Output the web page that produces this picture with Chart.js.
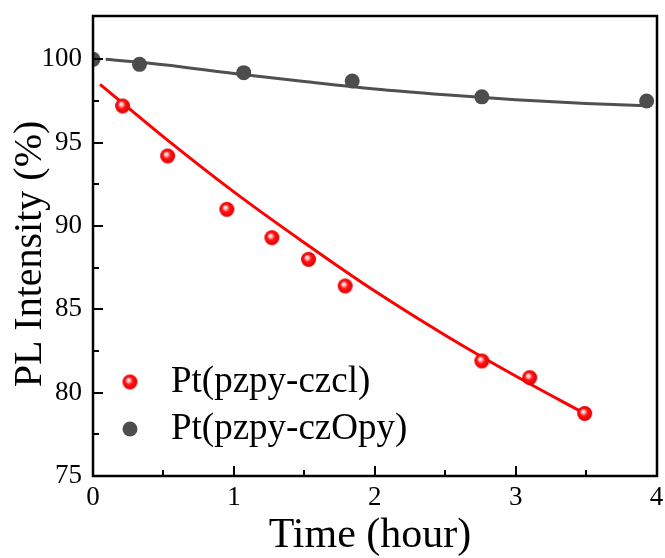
<!DOCTYPE html>
<html>
<head>
<meta charset="utf-8">
<script src="https://cdn.jsdelivr.net/npm/chart.js@4.4.1/dist/chart.umd.min.js"></script>
<style>
  html, body { margin: 0; padding: 0; background: #fff; }
  #wrap { width: 665px; height: 558px; }
</style>
</head>
<body>
<div id="wrap"><canvas id="plot"></canvas></div>
<script>
// measured points, Pt(pzpy-czcl)
var TIME_CZCL = [0.21, 0.53, 0.95, 1.27, 1.53, 1.79, 2.76, 3.10, 3.49];
var PL_CZCL = [97.2, 94.2, 91.0, 89.3, 88.0, 86.4, 81.9, 80.9, 78.75];

// measured points, Pt(pzpy-czOpy)
var TIME_CZOPY = [0, 0.33, 1.07, 1.84, 2.76, 3.93];
var PL_CZOPY = [100.0, 99.7, 99.2, 98.7, 97.75, 97.5];

// fitted decay curves
var FIT_X_CZCL = [0.05, 0.5, 1.0, 1.5, 2.0, 2.5, 3.0, 3.49];
var FIT_Y_CZCL = [98.5, 95.35, 92.05, 89.0, 86.1, 83.45, 81.0, 78.75];
var FIT_X_CZOPY = [0.09, 0.5, 1.0, 1.5, 2.0, 2.5, 3.0, 3.5, 3.93];
var FIT_Y_CZOPY = [100.0, 99.68, 99.15, 98.67, 98.22, 97.87, 97.57, 97.35, 97.22];

var X_TICKS = [0, 1, 2, 3, 4];
var X_MINOR = [0.5, 1.5, 2.5, 3.5];
var Y_TICKS = [75, 80, 85, 90, 95, 100];
var Y_MINOR = [77.5, 82.5, 87.5, 92.5, 97.5];
var LABELS = ['Pt(pzpy-czcl)', 'Pt(pzpy-czOpy)'];
var X_TITLE = 'Time (hour)';
var Y_TITLE = 'PL Intensity (%)';

var SERIF = '"Liberation Serif", "Times New Roman", serif';
var RED = '#ff0000';
var GREY = '#4d4d4d';

function pairs(xs, ys) {
  return xs.map(function (x, i) { return { x: x, y: ys[i] }; });
}

// shiny red ball used as the marker
function makeBall(r) {
  var c = document.createElement('canvas');
  c.width = c.height = r * 2 + 2;
  var g = c.getContext('2d');
  var cx = r + 1, cy = r + 1;
  var grad = g.createRadialGradient(cx - r * 0.25, cy - r * 0.3, 0, cx, cy, r);
  grad.addColorStop(0, '#ffffff');
  grad.addColorStop(0.22, '#ffc0c0');
  grad.addColorStop(0.5, '#ff1414');
  grad.addColorStop(1, '#e00000');
  g.fillStyle = grad;
  g.beginPath();
  g.arc(cx, cy, r, 0, Math.PI * 2);
  g.fill();
  return c;
}
var ball = makeBall(7.5);

// frame, inward ticks, axis titles and the legend
var decor = {
  id: 'decor',
  afterDatasetsDraw: function (chart) {
    var ctx = chart.ctx, a = chart.chartArea;
    var xs = chart.scales.x, ys = chart.scales.y;
    var L = Math.round(a.left), R = Math.round(a.right);
    var T = Math.round(a.top), B = Math.round(a.bottom);
    ctx.save();
    ctx.strokeStyle = '#000';
    ctx.lineWidth = 2.5;
    ctx.strokeRect(L, T, R - L, B - T);

    // tick marks point into the plot
    ctx.fillStyle = '#000';
    X_TICKS.forEach(function (v) {
      ctx.fillRect(Math.round(xs.getPixelForValue(v)) - 1, B - 10, 2, 10);
    });
    X_MINOR.forEach(function (v) {
      ctx.fillRect(Math.round(xs.getPixelForValue(v)) - 1, B - 6, 2, 6);
    });
    Y_TICKS.forEach(function (v) {
      ctx.fillRect(L, Math.round(ys.getPixelForValue(v)) - 1, 10, 2);
    });
    Y_MINOR.forEach(function (v) {
      ctx.fillRect(L, Math.round(ys.getPixelForValue(v)) - 1, 6, 2);
    });

    ctx.textBaseline = 'middle';
    ctx.textAlign = 'center';
    ctx.font = '42px ' + SERIF;
    ctx.fillText(X_TITLE, 370, 536);
    ctx.save();
    ctx.translate(30, 254);
    ctx.rotate(-Math.PI / 2);
    ctx.font = '40px ' + SERIF;
    ctx.fillText(Y_TITLE, 0, 0);
    ctx.restore();

    // legend
    ctx.drawImage(ball, 130 - ball.width / 2, 382 - ball.height / 2);
    ctx.fillStyle = GREY;
    ctx.beginPath();
    ctx.arc(130, 429, 7.5, 0, Math.PI * 2);
    ctx.fill();
    ctx.fillStyle = '#000';
    ctx.font = '37px ' + SERIF;
    ctx.textAlign = 'left';
    ctx.fillText(LABELS[0], 171, 382);
    ctx.fillText(LABELS[1], 171, 429);
    ctx.restore();
  }
};

new Chart(document.getElementById('plot'), {
  type: 'scatter',
  data: {
    datasets: [
      {
        label: LABELS[0],
        data: pairs(TIME_CZCL, PL_CZCL),
        pointStyle: ball,
        pointRadius: 7.5,
        order: 0,
        clip: 0
      },
      {
        label: LABELS[1],
        data: pairs(TIME_CZOPY, PL_CZOPY),
        pointStyle: 'circle',
        pointRadius: 7.5,
        pointBackgroundColor: GREY,
        pointBorderWidth: 0,
        order: 0,
        clip: 0
      },
      {
        label: 'fit czcl',
        data: pairs(FIT_X_CZCL, FIT_Y_CZCL),
        showLine: true,
        borderColor: RED,
        borderWidth: 3,
        pointRadius: 0,
        cubicInterpolationMode: 'monotone',
        order: 1
      },
      {
        label: 'fit czOpy',
        data: pairs(FIT_X_CZOPY, FIT_Y_CZOPY),
        showLine: true,
        borderColor: '#505050',
        borderWidth: 3,
        pointRadius: 0,
        cubicInterpolationMode: 'monotone',
        order: 1
      }
    ]
  },
  options: {
    responsive: true,
    maintainAspectRatio: false,
    animation: false,
    layout: { padding: { top: 16, right: 8, left: 0, bottom: 0 } },
    plugins: {
      legend: { display: false },
      tooltip: { enabled: false }
    },
    scales: {
      x: {
        type: 'linear',
        min: 0,
        max: 4,
        afterBuildTicks: function (s) { s.ticks = X_TICKS.map(function (v) { return { value: v }; }); },
        afterFit: function (s) {
          s.height = 82;
          s.paddingLeft = 0;
          s.paddingRight = 0;
        },
        grid: { display: false, drawTicks: false },
        border: { display: false },
        ticks: {
          color: '#000',
          padding: 6,
          maxRotation: 0,
          font: { family: SERIF, size: 27 }
        }
      },
      y: {
        type: 'linear',
        min: 75,
        max: 102.6,
        afterBuildTicks: function (s) { s.ticks = Y_TICKS.map(function (v) { return { value: v }; }); },
        afterFit: function (s) {
          s.width = 93;
          s.paddingTop = 0;
          s.paddingBottom = 0;
        },
        grid: { display: false, drawTicks: false },
        border: { display: false },
        ticks: {
          color: '#000',
          padding: 11,
          font: { family: SERIF, size: 27 }
        }
      }
    }
  },
  plugins: [decor]
});
</script>
</body>
</html>
